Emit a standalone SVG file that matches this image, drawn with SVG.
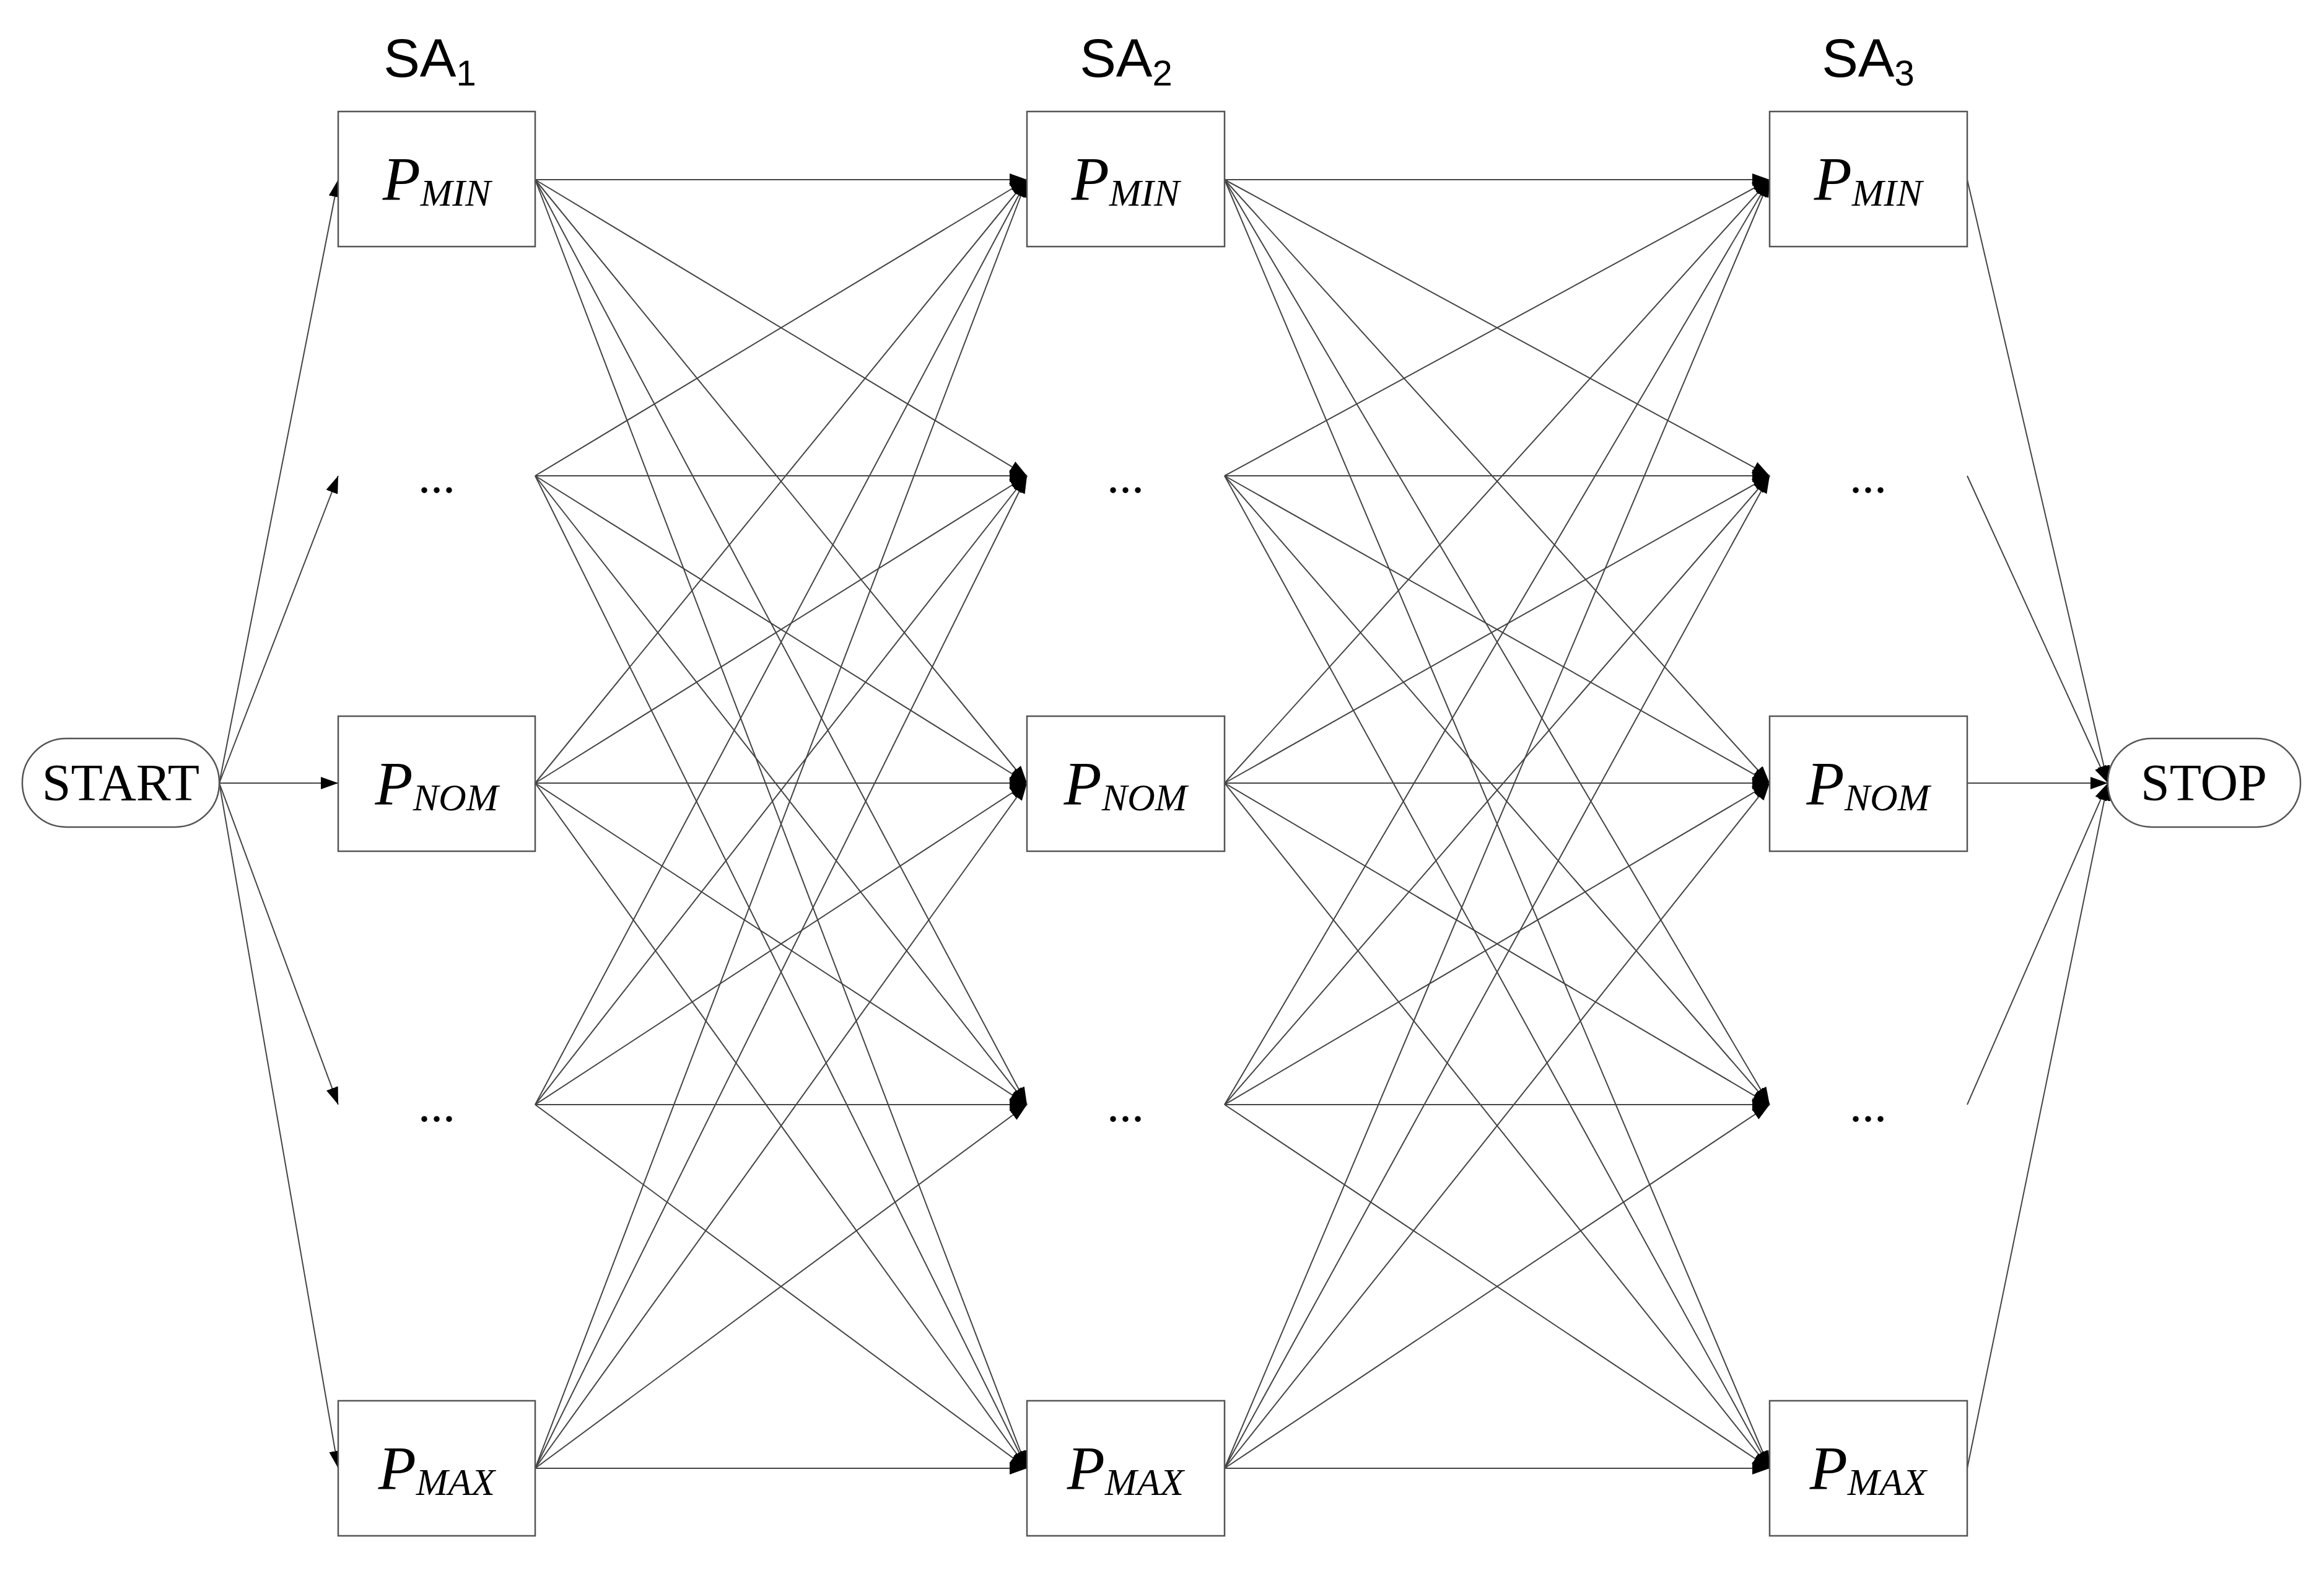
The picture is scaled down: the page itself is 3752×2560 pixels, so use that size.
<svg xmlns="http://www.w3.org/2000/svg" width="3752" height="2560" viewBox="0 0 3752 2560">
<style>
.b{fill:#fff;stroke:#555;stroke-width:2.5}
.e line{stroke:#444;stroke-width:2;marker-end:url(#a)}
.p{font-family:"Liberation Serif",serif;font-style:italic;font-size:100px;text-anchor:middle}
.s{font-size:62px}
.t{font-family:"Liberation Sans",sans-serif;font-size:88px;text-anchor:middle}
.d{font-family:"Liberation Serif",serif;font-size:80px;text-anchor:middle}
.st{font-family:"Liberation Serif",serif;font-size:84px;text-anchor:middle}
</style>
<defs><marker id="a" markerUnits="userSpaceOnUse" markerWidth="30" markerHeight="20" refX="28" refY="10" orient="auto"><path d="M0,0L28,10L0,20z" fill="#000"/></marker></defs>
<rect width="3752" height="2560" fill="#fff"/>
<g id="titles">
<text class="t" x="694" y="124">SA<tspan font-size="58" dy="14">1</tspan></text>
<text class="t" x="1818" y="124">SA<tspan font-size="58" dy="14">2</tspan></text>
<text class="t" x="3016" y="124">SA<tspan font-size="58" dy="14">3</tspan></text>
</g>
<g class="e" id="connectors">
<line x1="354" y1="1264" x2="546" y2="290"/><line x1="354" y1="1264" x2="546" y2="768"/><line x1="354" y1="1264" x2="546" y2="1264"/><line x1="354" y1="1264" x2="546" y2="1783"/><line x1="354" y1="1264" x2="546" y2="2370"/>
<line x1="864" y1="290" x2="1658" y2="290"/><line x1="864" y1="290" x2="1658" y2="768"/><line x1="864" y1="290" x2="1658" y2="1264"/><line x1="864" y1="290" x2="1658" y2="1783"/><line x1="864" y1="290" x2="1658" y2="2370"/>
<line x1="864" y1="768" x2="1658" y2="290"/><line x1="864" y1="768" x2="1658" y2="768"/><line x1="864" y1="768" x2="1658" y2="1264"/><line x1="864" y1="768" x2="1658" y2="1783"/><line x1="864" y1="768" x2="1658" y2="2370"/>
<line x1="864" y1="1264" x2="1658" y2="290"/><line x1="864" y1="1264" x2="1658" y2="768"/><line x1="864" y1="1264" x2="1658" y2="1264"/><line x1="864" y1="1264" x2="1658" y2="1783"/><line x1="864" y1="1264" x2="1658" y2="2370"/>
<line x1="864" y1="1783" x2="1658" y2="290"/><line x1="864" y1="1783" x2="1658" y2="768"/><line x1="864" y1="1783" x2="1658" y2="1264"/><line x1="864" y1="1783" x2="1658" y2="1783"/><line x1="864" y1="1783" x2="1658" y2="2370"/>
<line x1="864" y1="2370" x2="1658" y2="290"/><line x1="864" y1="2370" x2="1658" y2="768"/><line x1="864" y1="2370" x2="1658" y2="1264"/><line x1="864" y1="2370" x2="1658" y2="1783"/><line x1="864" y1="2370" x2="1658" y2="2370"/>
<line x1="1977" y1="290" x2="2857" y2="290"/><line x1="1977" y1="290" x2="2857" y2="768"/><line x1="1977" y1="290" x2="2857" y2="1264"/><line x1="1977" y1="290" x2="2857" y2="1783"/><line x1="1977" y1="290" x2="2857" y2="2370"/>
<line x1="1977" y1="768" x2="2857" y2="290"/><line x1="1977" y1="768" x2="2857" y2="768"/><line x1="1977" y1="768" x2="2857" y2="1264"/><line x1="1977" y1="768" x2="2857" y2="1783"/><line x1="1977" y1="768" x2="2857" y2="2370"/>
<line x1="1977" y1="1264" x2="2857" y2="290"/><line x1="1977" y1="1264" x2="2857" y2="768"/><line x1="1977" y1="1264" x2="2857" y2="1264"/><line x1="1977" y1="1264" x2="2857" y2="1783"/><line x1="1977" y1="1264" x2="2857" y2="2370"/>
<line x1="1977" y1="1783" x2="2857" y2="290"/><line x1="1977" y1="1783" x2="2857" y2="768"/><line x1="1977" y1="1783" x2="2857" y2="1264"/><line x1="1977" y1="1783" x2="2857" y2="1783"/><line x1="1977" y1="1783" x2="2857" y2="2370"/>
<line x1="1977" y1="2370" x2="2857" y2="290"/><line x1="1977" y1="2370" x2="2857" y2="768"/><line x1="1977" y1="2370" x2="2857" y2="1264"/><line x1="1977" y1="2370" x2="2857" y2="1783"/><line x1="1977" y1="2370" x2="2857" y2="2370"/>
<line x1="3176" y1="290" x2="3403" y2="1264"/><line x1="3176" y1="768" x2="3403" y2="1264"/><line x1="3176" y1="1264" x2="3403" y2="1264"/><line x1="3176" y1="1783" x2="3403" y2="1264"/><line x1="3176" y1="2370" x2="3403" y2="1264"/>
</g>
<g id="start"><rect class="b" x="36" y="1192" width="318" height="143" rx="71"/><text class="st" x="195" y="1292">START</text></g>
<g id="stop"><rect class="b" x="3403" y="1192" width="311" height="143" rx="71"/><text class="st" x="3558" y="1292">STOP</text></g>
<g id="c1min"><rect class="b" x="546" y="180" width="318" height="218"/><text class="p" x="705" y="322">P<tspan class="s" dy="10">MIN</tspan></text></g>
<g id="c1d1"><text class="d" x="705" y="795">...</text></g>
<g id="c1nom"><rect class="b" x="546" y="1156" width="318" height="218"/><text class="p" x="705" y="1298">P<tspan class="s" dy="10">NOM</tspan></text></g>
<g id="c1d2"><text class="d" x="705" y="1810">...</text></g>
<g id="c1max"><rect class="b" x="546" y="2261" width="318" height="218"/><text class="p" x="705" y="2403">P<tspan class="s" dy="10">MAX</tspan></text></g>
<g id="c2min"><rect class="b" x="1658" y="180" width="319" height="218"/><text class="p" x="1817" y="322">P<tspan class="s" dy="10">MIN</tspan></text></g>
<g id="c2d1"><text class="d" x="1817" y="795">...</text></g>
<g id="c2nom"><rect class="b" x="1658" y="1156" width="319" height="218"/><text class="p" x="1817" y="1298">P<tspan class="s" dy="10">NOM</tspan></text></g>
<g id="c2d2"><text class="d" x="1817" y="1810">...</text></g>
<g id="c2max"><rect class="b" x="1658" y="2261" width="319" height="218"/><text class="p" x="1817" y="2403">P<tspan class="s" dy="10">MAX</tspan></text></g>
<g id="c3min"><rect class="b" x="2857" y="180" width="319" height="218"/><text class="p" x="3016" y="322">P<tspan class="s" dy="10">MIN</tspan></text></g>
<g id="c3d1"><text class="d" x="3016" y="795">...</text></g>
<g id="c3nom"><rect class="b" x="2857" y="1156" width="319" height="218"/><text class="p" x="3016" y="1298">P<tspan class="s" dy="10">NOM</tspan></text></g>
<g id="c3d2"><text class="d" x="3016" y="1810">...</text></g>
<g id="c3max"><rect class="b" x="2857" y="2261" width="319" height="218"/><text class="p" x="3016" y="2403">P<tspan class="s" dy="10">MAX</tspan></text></g>
</svg>
